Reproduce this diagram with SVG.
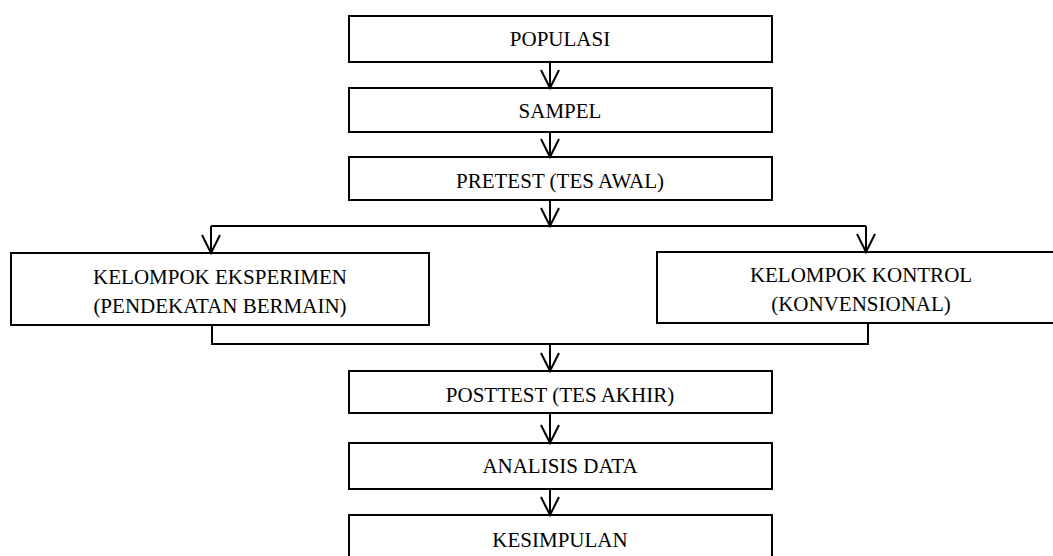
<svg xmlns="http://www.w3.org/2000/svg" width="1053" height="556" viewBox="0 0 1053 556">
<style>
.box{fill:#fff;stroke:#000;stroke-width:2}
.t{font-family:"Liberation Serif","Times New Roman",serif;font-size:21px;fill:#000;text-anchor:middle}
.c{fill:none;stroke:#000;stroke-width:2}
</style>
<defs>
<marker id="ah" markerUnits="userSpaceOnUse" viewBox="0 0 22 22" markerWidth="22" markerHeight="22" refX="20" refY="11" orient="auto">
<path d="M2,2 L20,11 L2,20" fill="none" stroke="#000" stroke-width="2"/>
</marker>
</defs>
<rect width="1053" height="556" fill="#fff"/>
<g id="n-populasi"><rect class="box" x="349" y="16" width="423" height="46"/><text class="t" x="560" y="46">POPULASI</text></g>
<g id="n-sampel"><rect class="box" x="349" y="88" width="423" height="44"/><text class="t" x="560" y="118">SAMPEL</text></g>
<g id="n-pretest"><rect class="box" x="349" y="157" width="423" height="43"/><text class="t" x="560" y="188">PRETEST (TES AWAL)</text></g>
<g id="n-eksperimen"><rect class="box" x="11" y="253" width="418" height="72"/><text class="t" x="220" y="284">KELOMPOK EKSPERIMEN</text><text class="t" x="220" y="313">(PENDEKATAN BERMAIN)</text></g>
<g id="n-kontrol"><rect class="box" x="657" y="252" width="410" height="71"/><text class="t" x="861" y="282">KELOMPOK KONTROL</text><text class="t" x="861" y="311">(KONVENSIONAL)</text></g>
<g id="n-posttest"><rect class="box" x="349" y="371" width="423" height="42"/><text class="t" x="560" y="402">POSTTEST (TES AKHIR)</text></g>
<g id="n-analisis"><rect class="box" x="349" y="443" width="423" height="46"/><text class="t" x="560" y="473">ANALISIS DATA</text></g>
<g id="n-kesimpulan"><rect class="box" x="349" y="515" width="423" height="50"/><text class="t" x="560" y="547">KESIMPULAN</text></g>
<g id="connectors">
<line class="c" x1="550" y1="62" x2="550" y2="88" marker-end="url(#ah)"/>
<line class="c" x1="550" y1="132" x2="550" y2="157" marker-end="url(#ah)"/>
<line class="c" x1="550" y1="200" x2="550" y2="226" marker-end="url(#ah)"/>
<line class="c" x1="211" y1="226" x2="866" y2="226"/>
<line class="c" x1="211" y1="226" x2="211" y2="253" marker-end="url(#ah)"/>
<line class="c" x1="866" y1="226" x2="866" y2="252" marker-end="url(#ah)"/>
<polyline class="c" points="212,325 212,344 868,344 868,323"/>
<line class="c" x1="550" y1="344" x2="550" y2="371" marker-end="url(#ah)"/>
<line class="c" x1="550" y1="413" x2="550" y2="443" marker-end="url(#ah)"/>
<line class="c" x1="550" y1="489" x2="550" y2="515" marker-end="url(#ah)"/>
</g>
</svg>
